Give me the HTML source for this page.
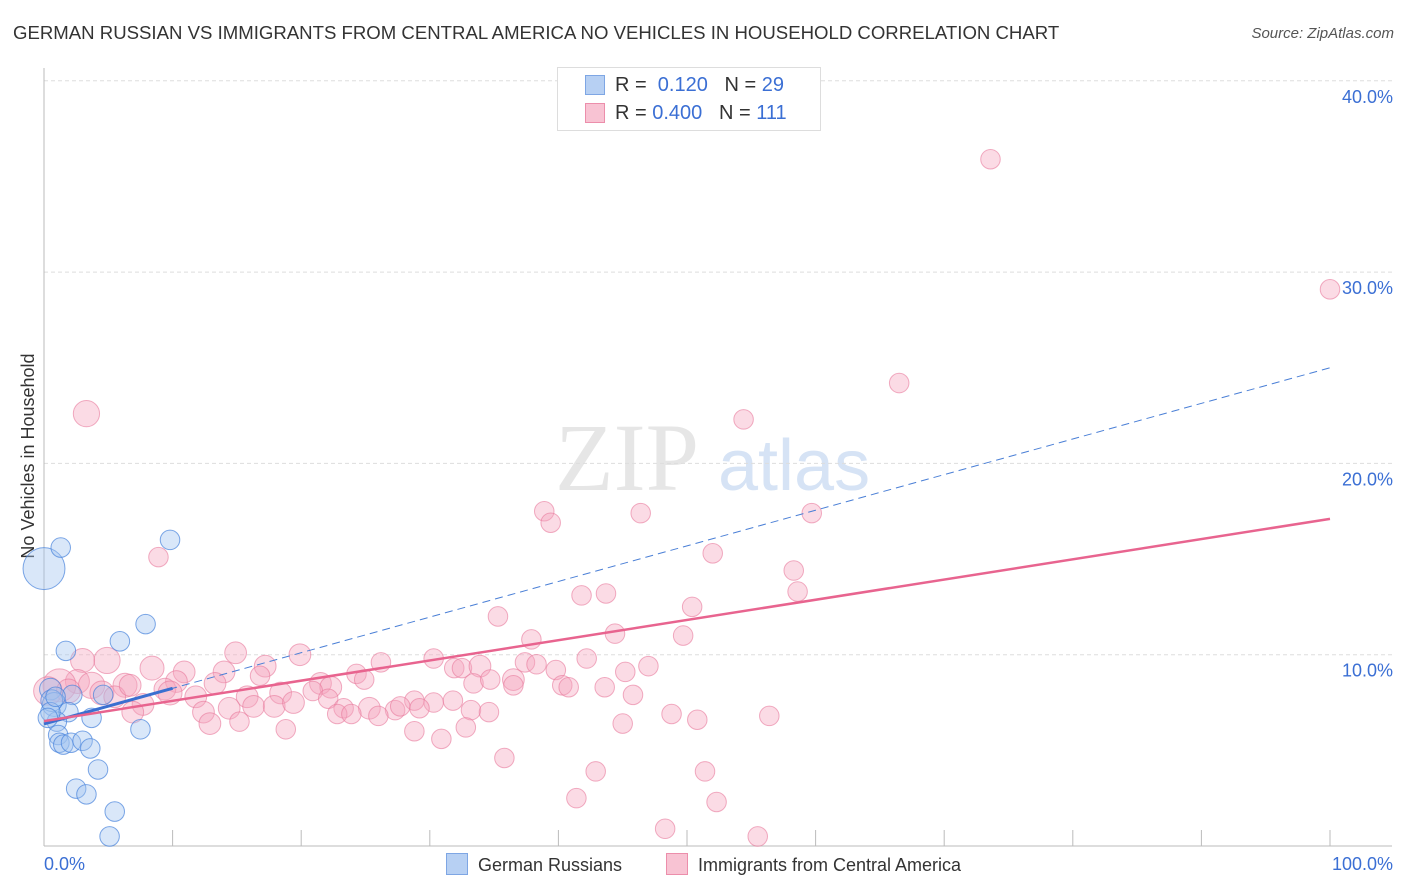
<!DOCTYPE html>
<html><head><meta charset="utf-8"><style>
body{margin:0;background:#fff;font-family:"Liberation Sans",sans-serif;}
#wrap{position:relative;width:1406px;height:892px;overflow:hidden;}
.t{position:absolute;white-space:nowrap;}
</style></head><body>
<div id="wrap">
<div class="t" style="left:13px;top:22px;font-size:18.6px;color:#333;">GERMAN RUSSIAN VS IMMIGRANTS FROM CENTRAL AMERICA NO VEHICLES IN HOUSEHOLD CORRELATION CHART</div>
<div class="t" style="right:12px;top:25px;font-size:15px;color:#555;font-style:italic;">Source: ZipAtlas.com</div>
<svg id="svg" width="1406" height="892" style="position:absolute;left:0;top:0"></svg>
</div>
<script>
const yTicks=[10,20,30,40];
const yTickLabels=["10.0%","20.0%","30.0%","40.0%"];
const xTickLabels=["0.0%","100.0%"];
// German Russians: x%, y%, radius
const blueX=[0,1.3,9.8,1.7,5.9,7.9,0.5,2.2,4.6,0.8,1.9,3.7,7.5,1.0,1.1,1.2,1.5,2.1,3.0,3.6,4.2,2.5,3.3,5.5,5.1,0.6,0.5,0.9,0.3];
const blueY=[14.5,15.6,16.0,10.2,10.7,11.6,8.2,7.9,7.9,7.4,7.0,6.7,6.1,6.5,5.8,5.4,5.3,5.4,5.5,5.1,4.0,3.0,2.7,1.8,0.5,7.6,7.0,7.8,6.7];
const blueR=[18,8,8,8,8,8,9,8,8,10,8,8,8,8,8,8,8,8,8,8,8,8,8,8,8,9,8,8,8];
const pinkX=[73.6,100,66.5,3.3,54.4,38.9,39.4,46.4,59.7,8.9,52.0,58.3,58.6,41.8,43.7,35.3,50.4,44.4,37.9,49.7,14.9,19.9,4.9,3.0,8.4,10.9,14.0,17.2,26.2,30.3,31.9,32.5,33.9,37.4,38.3,39.8,42.2,45.2,47.0,24.3,16.8,2.6,1.2,3.7,6.3,10.3,13.3,21.5,22.3,24.9,33.4,34.7,36.5,36.5,40.3,40.8,43.6,45.8,0.3,1.9,4.5,5.5,9.4,11.8,15.8,18.4,20.9,22.1,28.8,30.3,31.8,33.2,34.6,7.7,6.9,12.4,14.4,16.3,17.9,19.4,23.3,25.3,27.3,29.2,22.8,23.9,26.0,27.7,12.9,15.2,18.8,28.8,30.9,32.8,45.0,48.8,50.8,56.4,35.8,42.9,51.4,41.4,52.3,48.3,55.5,9.8,6.7];
const pinkY=[35.9,29.1,24.2,22.6,22.3,17.5,16.9,17.4,17.4,15.1,15.3,14.4,13.3,13.1,13.2,12.0,12.5,11.1,10.8,11.0,10.1,10.0,9.7,9.7,9.3,9.1,9.1,9.4,9.6,9.8,9.3,9.3,9.4,9.6,9.5,9.2,9.8,9.1,9.4,9.0,8.9,8.6,8.4,8.4,8.4,8.6,8.5,8.5,8.3,8.7,8.5,8.7,8.7,8.4,8.4,8.3,8.3,7.9,8.1,8.1,8.0,7.8,8.2,7.8,7.8,8.0,8.1,7.7,7.6,7.5,7.6,7.1,7.0,7.4,7.0,7.0,7.2,7.3,7.3,7.5,7.2,7.2,7.1,7.2,6.9,6.9,6.8,7.3,6.4,6.5,6.1,6.0,5.6,6.2,6.4,6.9,6.6,6.8,4.6,3.9,3.9,2.5,2.3,0.9,0.5,8.0,8.4];
const pinkR=[8,8,8,11,8,8,8,8,8,8,8,8,8,8,8,8,8,8,8,8,9,9,11,10,10,9,9,9,8,8,8,8,9,8,8,8,8,8,8,8,8,10,14,11,10,9,9,9,9,8,8,8,9,8,8,8,8,8,12,10,10,9,9,9,9,9,8,8,8,8,8,8,8,9,9,9,9,9,9,9,8,9,8,8,8,8,8,8,9,8,8,8,8,8,8,8,8,8,8,8,8,8,8,8,8,10,9];
const blueLine=[6.38,25.0], pinkLine=[6.53,17.1];
const X0=44,X1=1330,YB=846,YPER=19.13;
const xs=v=>X0+(X1-X0)*v/100, ys=v=>YB-v*YPER;
const rs=r=>r*1.12+0.8;
const svg=document.getElementById('svg');const NS='http://www.w3.org/2000/svg';
function mk(tag,attrs,parent){const e=document.createElementNS(NS,tag);for(const k in attrs)e.setAttribute(k,attrs[k]);(parent||svg).appendChild(e);return e;}
let wm=mk('text',{x:555,y:490,'font-size':96,fill:'#e6e6e6','font-family':'Liberation Serif, serif'});wm.textContent='ZIP';

let wm2=mk('text',{x:718,y:490,'font-size':72,fill:'#d6e3f5','font-family':'Liberation Sans, sans-serif'});wm2.textContent='atlas';

yTicks.forEach((v,i)=>{
 let g=mk('line',{x1:X0,x2:1392,y1:ys(v),y2:ys(v),stroke:'#ddd','stroke-dasharray':'4,3'});
 
 let t=mk('text',{x:1393,y:ys(v)+22,'text-anchor':'end','font-size':18,fill:'#3b6fd4'});t.textContent=yTickLabels[i];
 
});
let ax=mk('line',{x1:X0,x2:1392,y1:YB,y2:YB,stroke:'#bbb'});
let ay=mk('line',{x1:X0,x2:X0,y1:68,y2:YB,stroke:'#bbb'});
for(let i=1;i<=10;i++){let tk=mk('line',{x1:xs(i*10),x2:xs(i*10),y1:830,y2:YB,stroke:'#bbb'});}
let xl0=mk('text',{x:44,y:870,'font-size':18,fill:'#3b6fd4'});xl0.textContent=xTickLabels[0];
let xl1=mk('text',{x:1393,y:870,'text-anchor':'end','font-size':18,fill:'#3b6fd4'});xl1.textContent=xTickLabels[1];
let yt=mk('text',{x:34,y:456,'font-size':18,fill:'#333','text-anchor':'middle',transform:'rotate(-90 34 456)'});yt.textContent='No Vehicles in Household';

pinkX.forEach((x,i)=>{let c=mk('circle',{cx:xs(x),cy:ys(pinkY[i]),r:rs(pinkR[i]),fill:'rgba(246,165,190,0.4)',stroke:'rgba(232,120,155,0.6)','stroke-width':1});
 });
blueX.forEach((x,i)=>{let c=mk('circle',{cx:xs(x),cy:ys(blueY[i]),r:rs(blueR[i]),fill:'rgba(160,195,240,0.4)',stroke:'rgba(70,130,220,0.7)','stroke-width':1});
 });
let bd=mk('line',{x1:xs(0),y1:ys(blueLine[0]),x2:xs(100),y2:ys(blueLine[1]),stroke:'#4a7fd6','stroke-width':1,'stroke-dasharray':'8,5'});

let bs=mk('line',{x1:xs(0),y1:ys(blueLine[0]),x2:xs(10),y2:ys(blueLine[0]+(blueLine[1]-blueLine[0])*0.1),stroke:'#3a6fd0','stroke-width':3});

let pl=mk('line',{x1:xs(0),y1:ys(pinkLine[0]),x2:xs(100),y2:ys(pinkLine[1]),stroke:'#e8648f','stroke-width':2.5});

</script>
<div class="t" style="left:557px;top:67px;width:262px;height:62px;border:1px solid #ddd;background:#fff;"></div>
<div class="t" style="left:585px;top:75px;width:18px;height:18px;background:#b7d0f3;border:1px solid #7ea6e4;"></div>
<div class="t" style="left:585px;top:103px;width:18px;height:18px;background:#f8c3d3;border:1px solid #ec8eab;"></div>
<div class="t" style="left:615px;top:74px;font-size:20px;color:#333;">R = &nbsp;<span style="color:#3b6fd4">0.120</span>&nbsp;&nbsp;&nbsp;N = <span style="color:#3b6fd4">29</span></div>
<div class="t" style="left:615px;top:102px;font-size:20px;color:#333;">R = <span style="color:#3b6fd4">0.400</span>&nbsp;&nbsp;&nbsp;N = <span style="color:#3b6fd4">111</span></div>
<div class="t" style="left:446px;top:853px;font-size:18px;color:#333;"><span style="display:inline-block;width:20px;height:20px;background:#b7d0f3;border:1px solid #7ea6e4;vertical-align:-4px;margin-right:10px;"></span>German Russians</div>
<div class="t" style="left:666px;top:853px;font-size:18px;color:#333;"><span style="display:inline-block;width:20px;height:20px;background:#f8c3d3;border:1px solid #ec8eab;vertical-align:-4px;margin-right:10px;"></span>Immigrants from Central America</div>
</body></html>
